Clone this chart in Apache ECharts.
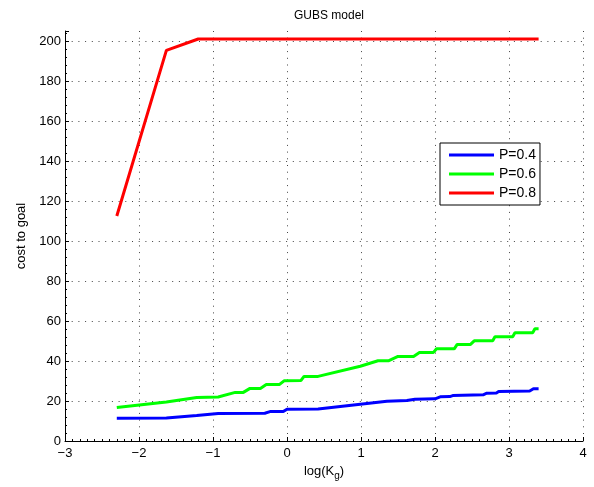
<!DOCTYPE html>
<html>
<head>
<meta charset="utf-8">
<title>GUBS model</title>
<script src="https://cdn.jsdelivr.net/npm/echarts@6/dist/echarts.min.js"></script>
<style>
  html, body { margin: 0; padding: 0; background: #fff; }
  #chart { width: 594px; height: 487px; }
</style>
</head>
<body>
<div id="chart"></div>
<script>
// log(K_g) sample positions and cost-to-goal values for each P
const p04X = [-2.30, -1.63, -1.22, -0.93, -0.30, -0.23, -0.05, 0.00, 0.42, 0.99, 1.35, 1.62, 1.73, 2.00, 2.07, 2.20, 2.24, 2.65, 2.70, 2.83, 2.86, 3.28, 3.33, 3.40];
const p04Y = [11.4, 11.5, 12.7, 13.7, 13.9, 14.7, 14.7, 15.9, 16.0, 18.4, 19.9, 20.2, 20.9, 21.1, 22.1, 22.2, 22.7, 23.1, 23.9, 24.0, 24.7, 25.0, 26.1, 26.1];

const p06X = [-2.30, -1.63, -1.22, -0.93, -0.70, -0.59, -0.50, -0.36, -0.28, -0.10, -0.04, 0.19, 0.23, 0.42, 0.99, 1.23, 1.37, 1.50, 1.71, 1.79, 1.98, 2.02, 2.26, 2.30, 2.48, 2.53, 2.78, 2.81, 3.05, 3.08, 3.32, 3.35, 3.40];
const p06Y = [16.7, 19.5, 21.7, 22.0, 24.3, 24.3, 26.3, 26.3, 28.3, 28.3, 30.1, 30.3, 32.3, 32.3, 37.4, 40.1, 40.1, 42.3, 42.3, 44.3, 44.3, 46.1, 46.1, 48.3, 48.3, 50.1, 50.1, 52.1, 52.1, 54.1, 54.1, 56.1, 56.1];

const p08X = [-2.30, -1.63, -1.20, 3.40];
const p08Y = [112.5, 195.3, 201.0, 201.0];

const seriesNames = ['P=0.4', 'P=0.6', 'P=0.8'];
const seriesColors = ['#0000ff', '#00ff00', '#ff0000'];

const xTicks = { min: -3, max: 4, step: 1 };
const yTicks = { min: 0, max: 205, step: 20 };

const pairs = (xs, ys) => xs.map((x, i) => [x, ys[i]]);
const seriesData = [pairs(p04X, p04Y), pairs(p06X, p06Y), pairs(p08X, p08Y)];

const FONT = '"Liberation Sans", Arial, Helvetica, sans-serif';
const minus = v => String(v).replace('-', '\u2212');

const chart = echarts.init(document.getElementById('chart'), null, { renderer: 'canvas' });

const gridLine = {
  show: true,
  lineStyle: { color: '#444', width: 1, type: [1, 5.7] }
};

chart.setOption({
  animation: false,
  backgroundColor: '#fff',
  title: {
    text: 'GUBS model',
    left: 324,
    top: 5,
    textAlign: 'center',
    textStyle: { fontFamily: FONT, fontSize: 12, fontWeight: 'normal', color: '#000' }
  },
  grid: { left: 65, right: 11, top: 31, bottom: 46, containLabel: false },
  legend: {
    orient: 'vertical',
    left: 440,
    top: 143,
    data: seriesNames,
    icon: 'rect',
    itemWidth: 45,
    itemHeight: 3,
    itemGap: 5,
    padding: [5, 4, 5, 9],
    borderColor: '#000',
    borderWidth: 1,
    backgroundColor: '#fff',
    textStyle: { fontFamily: FONT, fontSize: 14, color: '#000', padding: [0, 0, 0, 0] }
  },
  xAxis: {
    type: 'value',
    min: xTicks.min,
    max: xTicks.max,
    interval: xTicks.step,
    name: 'log(K{sub|g})',
    nameLocation: 'middle',
    nameGap: 21,
    nameTextStyle: {
      fontFamily: FONT, fontSize: 13, color: '#000',
      rich: { sub: { fontFamily: FONT, fontSize: 10, color: '#000', padding: [9, 0, 0, 0] } }
    },
    axisLine: { show: true, onZero: false, lineStyle: { color: '#000', width: 1 } },
    axisTick: { show: true, inside: true, length: 4, lineStyle: { color: '#000' } },
    minorTick: { show: true, splitNumber: 10, length: 2, lineStyle: { color: '#000' } },
    axisLabel: { fontFamily: FONT, fontSize: 13, color: '#000', margin: 6, formatter: minus },
    splitLine: Object.assign({}, gridLine, { showMinLine: false, showMaxLine: true })
  },
  yAxis: {
    type: 'value',
    min: yTicks.min,
    max: yTicks.max,
    interval: yTicks.step,
    name: 'cost to goal',
    nameLocation: 'middle',
    nameGap: 35,
    nameTextStyle: { fontFamily: FONT, fontSize: 13, color: '#000' },
    axisLine: { show: true, onZero: false, lineStyle: { color: '#000', width: 1 } },
    axisTick: { show: true, inside: true, length: 4, lineStyle: { color: '#000' } },
    minorTick: { show: true, splitNumber: 5, length: 2, lineStyle: { color: '#000' } },
    axisLabel: { fontFamily: FONT, fontSize: 13, color: '#000', margin: 4, showMaxLabel: false },
    splitLine: Object.assign({}, gridLine, { showMinLine: false, showMaxLine: false })
  },
  series: seriesNames.map((name, i) => ({
    name: name,
    type: 'line',
    data: seriesData[i],
    showSymbol: false,
    symbol: 'none',
    color: seriesColors[i],
    lineStyle: { color: seriesColors[i], width: 3 },
    itemStyle: { color: seriesColors[i] },
    z: 3
  }))
});
</script>
</body>
</html>
